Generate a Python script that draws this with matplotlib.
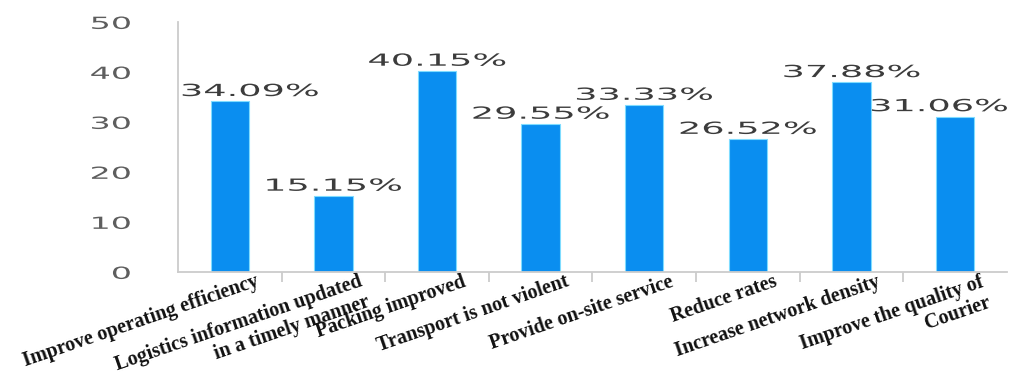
# bar chart: suggestions for courier service improvement (share of respondents, %)

import numpy as np
import matplotlib.pyplot as plt
from matplotlib.patheffects import AbstractPathEffect
from matplotlib.transforms import Affine2D, ScaledTranslation

categories = [
    "Improve operating efficiency",
    "Logistics information updated\nin a timely manner",
    "Packing improved",
    "Transport is not violent",
    "Provide on-site service",
    "Reduce rates",
    "Increase network density",
    "Improve the quality of\nCourier",
]
values = [34.09, 15.15, 40.15, 29.55, 33.33, 26.52, 37.88, 31.06]
yticks = [0, 10, 20, 30, 40, 50]


class Stretch(AbstractPathEffect):
    # widen glyphs horizontally (the source image is a stretched screenshot)
    def __init__(self, sx, anchor='center'):
        super().__init__()
        self.sx = sx
        self.anchor = anchor

    def draw_path(self, renderer, gc, tpath, affine, rgbFace=None):
        ext = tpath.get_extents(affine)
        x0 = {'left': ext.x0, 'center': (ext.x0 + ext.x1) / 2, 'right': ext.x1}[self.anchor]
        affine = affine + Affine2D().translate(-x0, 0).scale(self.sx, 1).translate(x0, 0)
        renderer.draw_path(gc, tpath, affine, rgbFace)


fig, ax = plt.subplots(figsize=(10.17, 3.9), dpi=100)
fig.subplots_adjust(left=0.175, right=0.990, bottom=0.303, top=0.944)

x = np.arange(len(categories))
bars = ax.bar(x, values, width=0.37, color='#0a8ef0', edgecolor='#7fdcff', linewidth=0.8)

ax.set_xlim(-0.5, len(categories) - 0.5)
ax.set_ylim(0, 50)

# value labels; first and last pulled inward so they stay on the canvas
label_dx = [20, 0, 0, 0, 0, 0, 0, -16]
for xi, v, dx in zip(x, values, label_dx):
    t = ax.annotate(f"{v:.2f}%", (xi, v), xytext=(dx * 0.72, 1), textcoords='offset points',
                    ha='center', va='bottom', fontsize=12, color='#3c3c3c')
    t.set_path_effects([Stretch(2.2, 'center')])

# y axis
ax.set_yticks(yticks)
ax.tick_params(axis='y', length=0, pad=34, labelsize=12, labelcolor='#5e5e5e')
for lbl in ax.get_yticklabels():
    lbl.set_path_effects([Stretch(2.0, 'right')])

# x axis: tick marks at the category borders, labels at the centres
ax.set_xticks(x[:-1] + 0.5)
ax.set_xticklabels([])
ax.tick_params(axis='x', which='major', length=7, width=1.3, color='#cccccc')
ax.set_xticks(x, minor=True)
ax.set_xticklabels(categories, minor=True, rotation=19, ha='right', va='top',
                   rotation_mode='anchor', multialignment='right', linespacing=1.1,
                   fontsize=14.5, fontweight='bold', family='Liberation Serif', color='#111111')
ax.tick_params(axis='x', which='minor', length=0, pad=0)
shift = ScaledTranslation(25 / 100, 0, fig.dpi_scale_trans)
for lbl in ax.get_xticklabels(minor=True):
    lbl.set_transform(lbl.get_transform() + shift)

for side in ('top', 'right'):
    ax.spines[side].set_visible(False)
for side in ('left', 'bottom'):
    ax.spines[side].set_color('#cccccc')
    ax.spines[side].set_linewidth(1.3)

fig.savefig("out.png", dpi=100)
